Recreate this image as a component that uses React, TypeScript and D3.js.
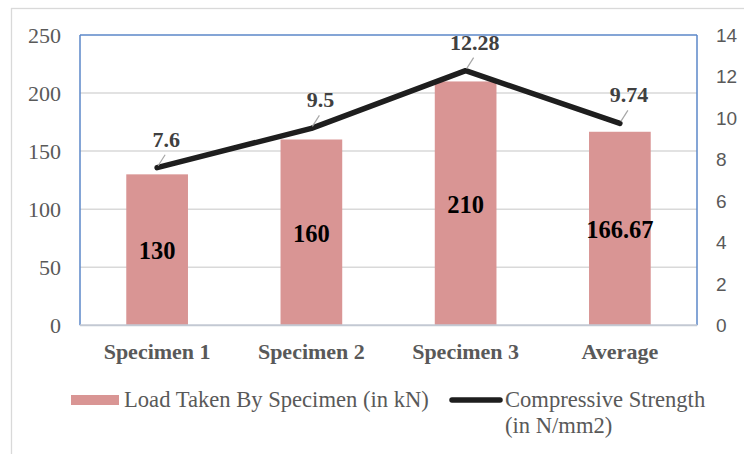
import React from "react";
import * as d3 from "d3";

const categories = ["Specimen 1", "Specimen 2", "Specimen 3", "Average"];
const loadValues = [130, 160, 210, 166.67];
const loadLabels = ["130", "160", "210", "166.67"];
const strengthValues = [7.6, 9.5, 12.28, 9.74];
const strengthLabels = ["7.6", "9.5", "12.28", "9.74"];
const leftTicks = [0, 50, 100, 150, 200, 250];
const rightTicks = [0, 2, 4, 6, 8, 10, 12, 14];
const legendBar = "Load Taken By Specimen (in kN)";
const legendLine = ["Compressive Strength", "(in N/mm2)"];

const W = 744;
const H = 454;
const plot = { left: 80, right: 697, top: 35, bottom: 325.3 };
const serif = "'Liberation Serif', 'Times New Roman', serif";
const sans = "'Liberation Sans', Arial, sans-serif";
const axisColor = "#595959";

export default function App() {
  const x = d3
    .scaleBand<string>()
    .domain(categories)
    .range([plot.left, plot.right])
    .padding(0);
  const barW = x.bandwidth() * 0.4;
  const yL = d3.scaleLinear().domain([0, 250]).range([plot.bottom, plot.top]);
  const yR = d3.scaleLinear().domain([0, 14]).range([plot.bottom, plot.top]);
  const cx = (c: string) => (x(c) as number) + x.bandwidth() / 2;

  const pts: [number, number][] = categories.map((c, i) => [cx(c), yR(strengthValues[i])]);
  const line = d3.line<[number, number]>().x((d) => d[0]).y((d) => d[1]);

  return (
    <svg
      width={W}
      height={H}
      style={{ position: "absolute", left: 0, top: 0, background: "#fff" }}
    >
      <rect x={11.5} y={8.5} width={740} height={460} fill="#fff" stroke="#D9D9D9" strokeWidth={1.3} />

      {/* gridlines */}
      {leftTicks.slice(1, -1).map((t) => (
        <line key={t} x1={plot.left} x2={plot.right} y1={yL(t)} y2={yL(t)} stroke="#D9D9D9" strokeWidth={1.5} />
      ))}

      {/* bars */}
      {categories.map((c, i) => (
        <rect
          key={c}
          x={cx(c) - barW / 2}
          y={yL(loadValues[i])}
          width={barW}
          height={plot.bottom - yL(loadValues[i])}
          fill="#D99594"
        />
      ))}

      {/* plot border */}
      <line x1={plot.left} x2={plot.right} y1={plot.top} y2={plot.top} stroke="#5B87C9" strokeWidth={1.5} />
      <line x1={plot.left} x2={plot.left} y1={plot.top} y2={plot.bottom} stroke="#5B87C9" strokeWidth={1.5} />
      <line x1={plot.right} x2={plot.right} y1={plot.top} y2={plot.bottom} stroke="#5B87C9" strokeWidth={1.5} />
      <line x1={plot.left} x2={plot.right} y1={plot.bottom} y2={plot.bottom} stroke="#C3C9D3" strokeWidth={2} />

      {/* bar labels */}
      {categories.map((c, i) => (
        <text
          key={c}
          x={cx(c)}
          y={(yL(loadValues[i]) + plot.bottom) / 2 + 9.5}
          textAnchor="middle"
          fontFamily={serif}
          fontWeight="bold"
          fontSize={24.5}
          fill="#000"
        >
          {loadLabels[i]}
        </text>
      ))}

      {/* line */}
      <path d={line(pts) || ""} fill="none" stroke="#1E1E1E" strokeWidth={5.5} strokeLinejoin="round" strokeLinecap="round" />

      {/* line labels with leaders */}
      {pts.map((p, i) => (
        <g key={i}>
          <line x1={p[0] + 1} y1={p[1] - 2} x2={p[0] + 8} y2={p[1] - 13} stroke="#A6A6A6" strokeWidth={1.2} />
          <text
            x={p[0] + 9}
            y={p[1] - 21}
            textAnchor="middle"
            fontFamily={serif}
            fontWeight="bold"
            fontSize={22}
            fill="#404040"
          >
            {strengthLabels[i]}
          </text>
        </g>
      ))}

      {/* left axis */}
      {leftTicks.map((t) => (
        <text key={t} x={61} y={yL(t)} dy="0.35em" textAnchor="end" fontFamily={serif} fontSize={22} fill={axisColor}>
          {t}
        </text>
      ))}

      {/* right axis */}
      {rightTicks.map((t) => (
        <text key={t} x={716} y={yR(t)} dy="0.36em" textAnchor="start" fontFamily={sans} fontSize={19} fill={axisColor}>
          {t}
        </text>
      ))}

      {/* category labels */}
      {categories.map((c) => (
        <text key={c} x={cx(c)} y={359} textAnchor="middle" fontFamily={serif} fontWeight="bold" fontSize={22} fill={axisColor}>
          {c}
        </text>
      ))}

      {/* legend */}
      <rect x={71} y={395} width={48} height={10} fill="#D99594" />
      <text x={124} y={407} fontFamily={serif} fontSize={22.6} fill={axisColor}>
        {legendBar}
      </text>
      <line x1={452} x2={500} y1={400} y2={400} stroke="#1E1E1E" strokeWidth={5.5} strokeLinecap="round" />
      {legendLine.map((s, i) => (
        <text key={i} x={505} y={407 + i * 26} fontFamily={serif} fontSize={22.6} fill={axisColor}>
          {s}
        </text>
      ))}
    </svg>
  );
}
